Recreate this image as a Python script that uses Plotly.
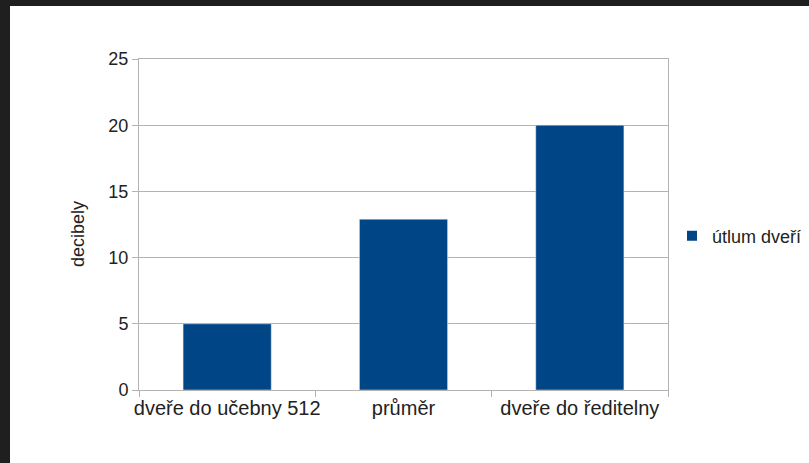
import plotly.graph_objects as go

categories = ["dveře do učebny 512", "průměr", "dveře do ředitelny"]
values = [5, 12.9, 20]
series_name = "útlum dveří"
y_title = "decibely"

W, H = 809, 463
ML, MR, MT, MB = 139, 141, 59, 73
PW, PH = W - ML - MR, H - MT - MB

BAR = "#004586"
GRID = "#b3b3b3"
FONT = "Liberation Sans, Arial, sans-serif"
TXT = "#222222"


def px_x(px):
    return (px - ML) / PW


def px_y(py):
    return 1 - (py - MT) / PH


fig = go.Figure()
fig.add_trace(go.Bar(x=categories, y=values, marker_color=BAR, showlegend=False,
                     name=series_name))
fig.add_trace(go.Scatter(x=[None], y=[None], mode="markers", name=series_name,
                         marker=dict(symbol="square", size=10, color=BAR)))

fig.update_layout(
    width=W, height=H,
    margin=dict(l=ML, r=MR, t=MT, b=MB, pad=0, autoexpand=False),
    paper_bgcolor="#1f1f1f",
    plot_bgcolor="white",
    bargap=0.5,
    font=dict(family=FONT, size=18, color=TXT),
    showlegend=True,
    legend=dict(x=px_x(672), y=px_y(236), xanchor="left", yanchor="middle",
                bgcolor="rgba(0,0,0,0)", font=dict(size=18, color=TXT),
                itemwidth=30),
    shapes=[dict(type="rect", xref="paper", yref="paper", layer="below",
                 x0=px_x(10), x1=px_x(W + 5), y0=px_y(H + 5), y1=px_y(6),
                 fillcolor="white", line=dict(width=0))],
    annotations=[dict(text=y_title, xref="paper", yref="paper",
                      x=px_x(78), y=px_y(234), textangle=-90,
                      showarrow=False, xanchor="center", yanchor="middle",
                      font=dict(size=18, color=TXT))],
)
fig.update_xaxes(
    showline=True, linecolor=GRID, linewidth=1, mirror=True,
    ticks="outside", tickson="boundaries", ticklen=6, tickcolor=GRID,
    tickangle=0, automargin=False,
    tickfont=dict(size=20, color=TXT), showgrid=False,
)
fig.update_yaxes(
    range=[0, 25], dtick=5, showline=True, linecolor=GRID, linewidth=1, mirror=True,
    ticks="outside", ticklen=6, tickcolor=GRID, gridcolor=GRID, gridwidth=1,
    automargin=False,
    tickfont=dict(size=18, color=TXT), zeroline=False,
)

fig.write_html("out.html")
